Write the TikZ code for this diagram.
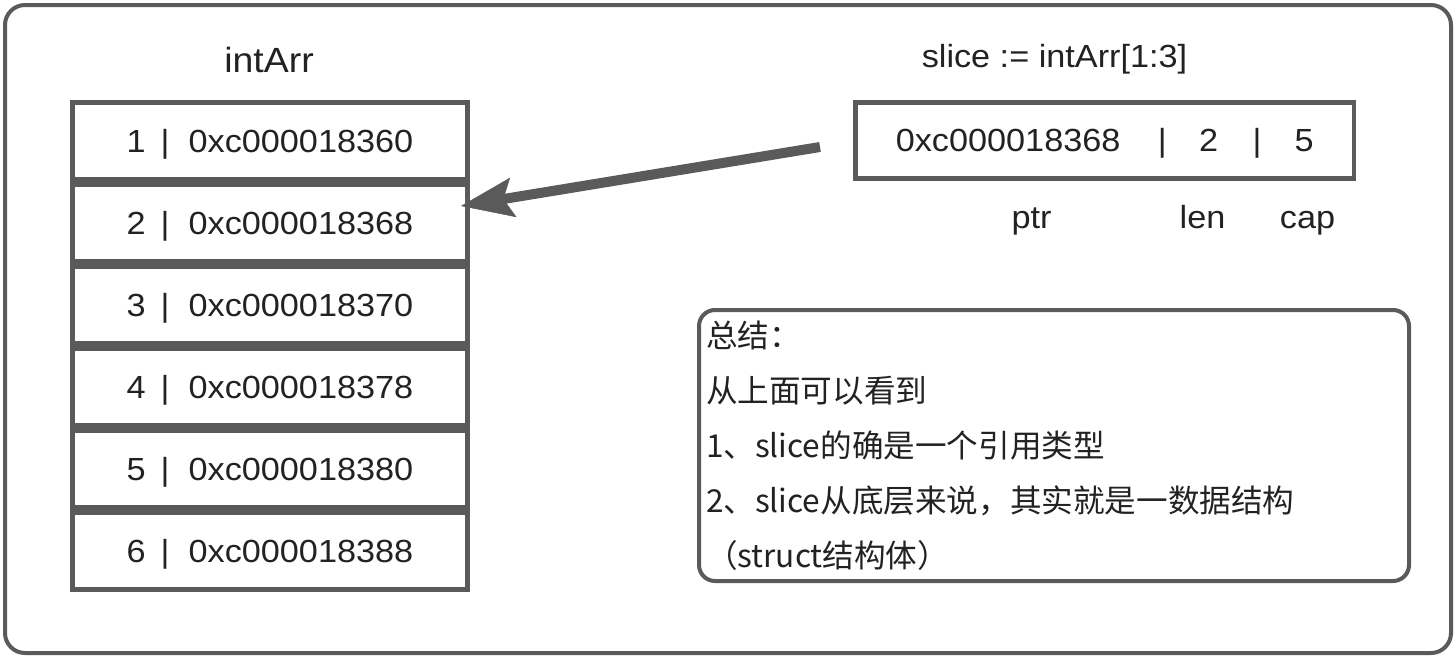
\documentclass[tikz,border=0pt]{standalone}
\usepackage{fontspec}
\setmainfont{Liberation Sans}[FakeStretch=1.07]
\newfontfamily\cjk{Noto Sans CJK SC}
\usetikzlibrary{arrows.meta}
\definecolor{linegray}{HTML}{5A5A5A}
\definecolor{textdark}{HTML}{222222}
\begin{document}
\begin{tikzpicture}[x=1pt,y=-1pt,
  every node/.style={inner sep=0pt, outer sep=0pt, text=textdark},
  latin/.style={font=\fontsize{32pt}{38pt}\selectfont},
  cell/.style={latin, draw=linegray, line width=4.5pt, minimum width=395pt,
    minimum height=77pt, text height=22.9pt, text depth=0pt},
  slicebox/.style={latin, draw=linegray, line width=4.5pt, minimum width=498.5pt,
    minimum height=76pt, text height=22.9pt, text depth=0pt},
  frame/.style={draw=linegray, line width=4pt, rounded corners=20pt},
  sumline/.style={font=\cjk\fontsize{31.6pt}{38pt}\selectfont, anchor=base west},
  ptrarrow/.style={draw=linegray, line width=10pt,
    -{Stealth[length=53pt, width=40pt, inset=10pt, line width=0.5pt, fill=linegray]}}
]
\useasboundingbox (0,0) rectangle (1456,662);
\fill[white] (0,0) rectangle (1456,662);

% outer frame
\node[frame, minimum width=1446pt, minimum height=648pt] (outer) at (728,329) {};

% title of array
\node[latin, font=\fontsize{35pt}{40pt}\selectfont, anchor=base] (title) at (269,72) {intArr};

% array cells
\node[cell] (r1) at (270,141) {1\hspace{15pt}|\hspace{19pt}0xc000018360};
\node[cell] (r2) at (270,223) {2\hspace{15pt}|\hspace{19pt}0xc000018368};
\node[cell] (r3) at (270,305) {3\hspace{15pt}|\hspace{19pt}0xc000018370};
\node[cell] (r4) at (270,387) {4\hspace{15pt}|\hspace{19pt}0xc000018378};
\node[cell] (r5) at (270,469) {5\hspace{15pt}|\hspace{19pt}0xc000018380};
\node[cell] (r6) at (270,551) {6\hspace{15pt}|\hspace{19pt}0xc000018388};

% slice
\node[latin, anchor=base] (stitle) at (1054.5,67) {slice := intArr[1:3]};
\node[slicebox] (sl) at (1104.75,140.5)
  {0xc000018368\hspace{37.4pt}|\hspace{32.5pt}2\hspace{34.5pt}|\hspace{33pt}5};
\node[latin, anchor=base] (lptr) at (1031.5,228) {ptr};
\node[latin, anchor=base] (llen) at (1202.5,228) {len};
\node[latin, anchor=base] (lcap) at (1307.5,228) {cap};

% pointer arrow
\draw[ptrarrow] ([xshift=-35.5pt,yshift=-6.5pt]sl.west) -- ([xshift=-6.5pt,yshift=17pt]r2.east);

% summary box
\node[draw=linegray, line width=4pt, rounded corners=16pt, minimum width=710pt,
  minimum height=271pt] (sum) at (1054,445.5) {};
\node[sumline] (s1) at (706,347.8) {总结：};
\node[sumline] (s2) at (706,402.8) {从上面可以看到};
\node[sumline] (s3) at (706,457.8) {1、slice的确是一个引用类型};
\node[sumline] (s4) at (706,512.8) {2、slice从底层来说，其实就是一数据结构};
\node[sumline] (s5) at (706,567.8) {（struct结构体）};
\end{tikzpicture}
\end{document}
